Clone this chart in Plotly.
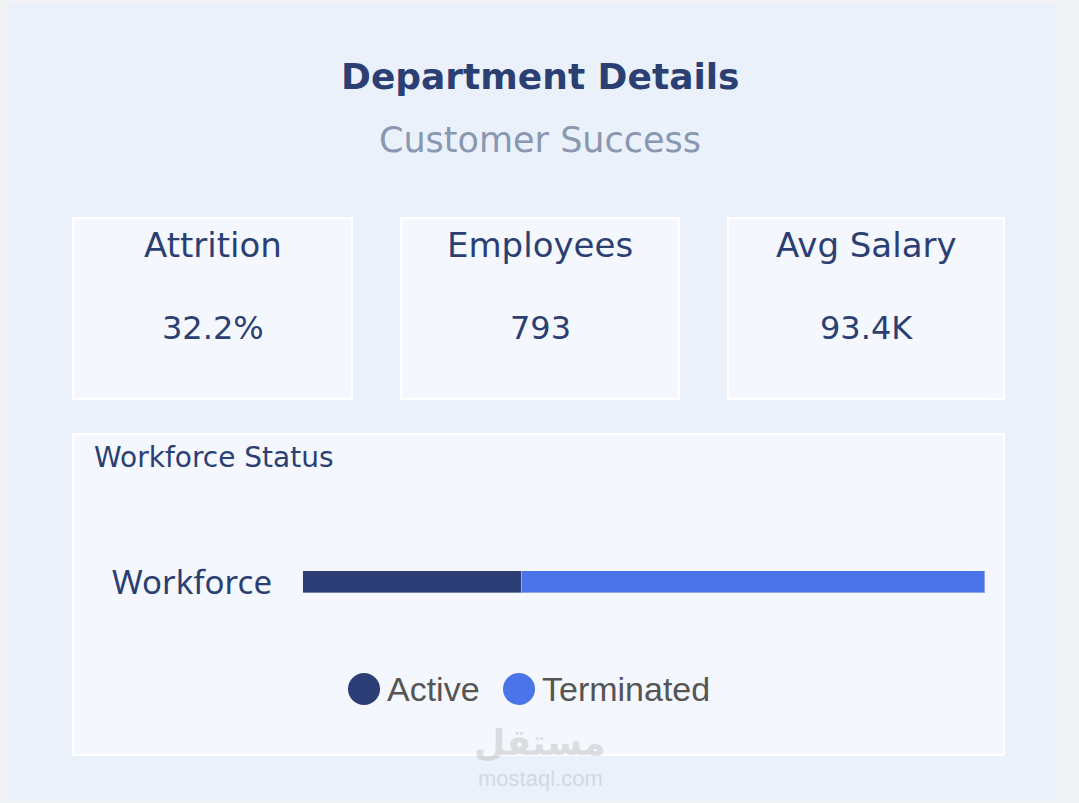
import plotly.graph_objects as go

# data
title = "Department Details"
department = "Customer Success"
kpi_labels = ["Attrition", "Employees", "Avg Salary"]
kpi_values = ["32.2%", "793", "93.4K"]
status = ["Active", "Terminated"]
status_counts = [255, 538]
status_colors = ["#2C3E75", "#4A74E8"]

W, H = 1079, 803


def px(x):
    return x / W


def py(y):
    return 1 - y / H


NAVY = "#2B3F73"
FONT = "DejaVu Sans"

fig = go.Figure()

for name, val, col in zip(status, status_counts, status_colors):
    fig.add_trace(go.Bar(
        y=["Workforce"], x=[val], name=name, orientation="h",
        marker=dict(color=col, line=dict(color="rgba(255,255,255,0.35)", width=1)),
        width=1, showlegend=False,
    ))

shapes = []
annotations = []

# card background
shapes.append(dict(type="rect", xref="paper", yref="paper",
                   x0=px(7), x1=px(1057), y0=py(800), y1=py(3),
                   fillcolor="#EAF1FB", line=dict(width=0), layer="below"))

# KPI boxes
boxes = [(73, 352), (401, 679), (728, 1004)]
for (x0, x1), lab, val in zip(boxes, kpi_labels, kpi_values):
    shapes.append(dict(type="rect", xref="paper", yref="paper",
                       x0=px(x0), x1=px(x1), y0=py(399), y1=py(218),
                       fillcolor="#F4F7FD", line=dict(color="#FFFFFF", width=2),
                       layer="below"))
    cx = px((x0 + x1) / 2)
    annotations.append(dict(x=cx, y=py(245), xref="paper", yref="paper",
                            text=lab, showarrow=False, xanchor="center", yanchor="middle",
                            font=dict(family=FONT, size=34, color=NAVY)))
    annotations.append(dict(x=cx, y=py(328), xref="paper", yref="paper",
                            text=val, showarrow=False, xanchor="center", yanchor="middle",
                            font=dict(family=FONT, size=32, color=NAVY)))

# workforce box
shapes.append(dict(type="rect", xref="paper", yref="paper",
                   x0=px(73), x1=px(1004), y0=py(755), y1=py(434),
                   fillcolor="#F4F7FD", line=dict(color="#FFFFFF", width=2),
                   layer="below"))
annotations.append(dict(x=px(92), y=py(458), xref="paper", yref="paper",
                        text="Workforce Status", showarrow=False,
                        xanchor="left", yanchor="middle",
                        font=dict(family=FONT, size=28, color=NAVY)))

# title
annotations.append(dict(x=px(540), y=py(77), xref="paper", yref="paper",
                        text="<b>" + title + "</b>", showarrow=False,
                        xanchor="center", yanchor="middle",
                        font=dict(family=FONT, size=36, color=NAVY)))
annotations.append(dict(x=px(540), y=py(140), xref="paper", yref="paper",
                        text=department, showarrow=False,
                        xanchor="center", yanchor="middle",
                        font=dict(family=FONT, size=35, color="#8A97B0")))

# legend drawn by hand (big round markers)
legend_x = [364, 519]
for lx, name, col in zip(legend_x, status, status_colors):
    shapes.append(dict(type="circle", xref="paper", yref="paper",
                       x0=px(lx - 16), x1=px(lx + 16), y0=py(705), y1=py(673),
                       fillcolor=col, line=dict(width=0)))
    annotations.append(dict(x=px(lx + 21), y=py(689), xref="paper", yref="paper",
                            text=name, showarrow=False, xanchor="left", yanchor="middle",
                            font=dict(family="Liberation Sans", size=34, color="#555555")))

# watermark
annotations.append(dict(x=px(540), y=py(742), xref="paper", yref="paper",
                        text="<b>مستقل</b>", showarrow=False, xanchor="center", yanchor="middle",
                        opacity=0.3,
                        font=dict(family="DejaVu Sans", size=36, color="#A0A0A0")))
annotations.append(dict(x=px(540), y=py(778), xref="paper", yref="paper",
                        text="mostaql.com", showarrow=False, xanchor="center", yanchor="middle",
                        opacity=0.3,
                        font=dict(family="Liberation Sans", size=22, color="#A0A0A0")))

fig.update_layout(
    width=W, height=H,
    margin=dict(l=0, r=0, t=0, b=0),
    paper_bgcolor="#F1F2F4",
    plot_bgcolor="rgba(0,0,0,0)",
    barmode="stack",
    bargap=0,
    shapes=shapes,
    annotations=annotations,
    xaxis=dict(domain=[px(303), px(985)], range=[0, sum(status_counts)], automargin=False,
               showgrid=False, zeroline=False, showticklabels=False, fixedrange=True),
    yaxis=dict(domain=[py(593), py(571)], range=[-0.5, 0.5], automargin=False,
               showgrid=False, zeroline=False, ticklabelstandoff=30, fixedrange=True,
               tickfont=dict(family="Noto Sans", size=33, color=NAVY)),
    showlegend=False,
)

fig.write_html("out.html", config={"displayModeBar": False},
               post_script="document.body.style.margin='0px';")
